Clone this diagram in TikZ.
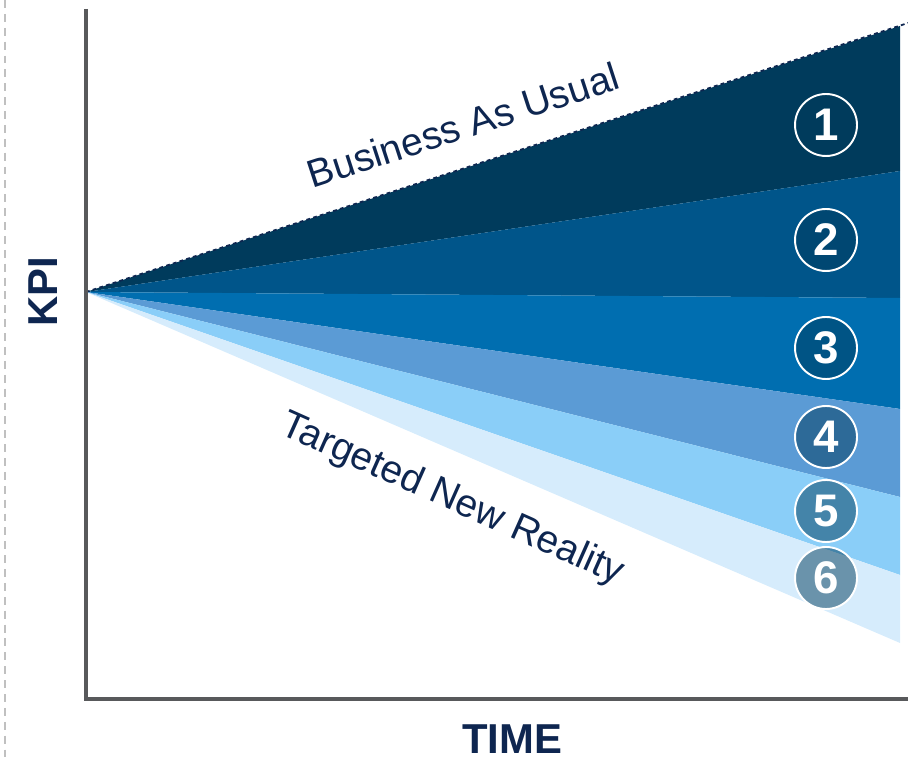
\documentclass[tikz,border=0pt]{standalone}
\usepackage{fontspec}
\setmainfont{Liberation Sans}
\definecolor{bandone}{RGB}{0, 59, 92}
\definecolor{bandtwo}{RGB}{0, 85, 138}
\definecolor{bandthree}{RGB}{0, 110, 176}
\definecolor{bandfour}{RGB}{91, 155, 213}
\definecolor{bandfive}{RGB}{138, 206, 248}
\definecolor{bandsix}{RGB}{214, 236, 252}
\definecolor{navytext}{RGB}{14, 38, 80}
\definecolor{axisgray}{RGB}{88, 89, 91}
\definecolor{dashgray}{RGB}{192, 192, 192}
\usetikzlibrary{positioning, calc}

\begin{document}
\begin{tikzpicture}[x=0.02cm, y=-0.02cm]
  \useasboundingbox (0,0) rectangle (908,759);

  % Key points
  \coordinate (origin) at (86,292);
  \coordinate (ytop) at (86,9);
  \coordinate (corner) at (86,699);
  \coordinate (xend) at (908,699);
  \coordinate (bauend) at (908,23);
  \coordinate (r0) at (900,26);
  \coordinate (r1) at (900,171);
  \coordinate (r2) at (900,298);
  \coordinate (r3) at (900,409);
  \coordinate (r4) at (900,497);
  \coordinate (r5) at (900,575);
  \coordinate (r6) at (900,643);

  % Left margin guide
  \coordinate (guidetop) at (5,0);
  \coordinate (guidebot) at (5,759);
  \draw[dashgray, line width=1.4pt, dash pattern={on 4.5pt off 3.4pt}] (guidetop) -- (guidebot);

  % The fan of scenarios
  \fill[bandone] (origin) -- (r0) -- (r1) -- cycle;
  \fill[bandtwo] (origin) -- (r1) -- (r2) -- cycle;
  \fill[bandthree] (origin) -- (r2) -- (r3) -- cycle;
  \fill[bandfour] (origin) -- (r3) -- (r4) -- cycle;
  \fill[bandfive] (origin) -- (r4) -- (r5) -- cycle;
  \fill[bandsix] (origin) -- (r5) -- (r6) -- cycle;
  \draw[navytext, line width=1pt, dash pattern={on 2.2pt off 1.8pt}] (origin) -- (bauend);

  % Axes
  \draw[axisgray, line width=0.08cm] (ytop) -- (corner) -- (xend);
  \node[rotate=90, text=navytext, font=\fontsize{23.8}{26}\selectfont\bfseries] (kpi) at (43,292) {KPI};
  \node[text=navytext, font=\fontsize{23.8}{26}\selectfont\bfseries] (time) at (512,739) {TIME};

  % Line labels
  \node[rotate=18, text=navytext, font=\fontsize{22.2}{24}\selectfont] (bau) at (463,125) {Business As Usual};
  \node[rotate=-24, text=navytext, font=\fontsize{22.2}{24}\selectfont] (tnr) at (452,500) {Targeted New Reality};

  % Numbered markers
  \node[circle, draw=white, line width=1.1pt, fill=bandone, fill opacity=0.5, text opacity=1, text=white, minimum size=1.24cm, inner sep=0pt, font=\fontsize{26}{26}\selectfont\bfseries] (m1) at (826,125) {1};
  \node[circle, draw=white, line width=1.1pt, fill=bandone, fill opacity=0.5, text opacity=1, text=white, minimum size=1.24cm, inner sep=0pt, font=\fontsize{26}{26}\selectfont\bfseries] (m2) at (826,240) {2};
  \node[circle, draw=white, line width=1.1pt, fill=bandone, fill opacity=0.5, text opacity=1, text=white, minimum size=1.24cm, inner sep=0pt, font=\fontsize{26}{26}\selectfont\bfseries] (m3) at (826,348) {3};
  \node[circle, draw=white, line width=1.1pt, fill=bandone, fill opacity=0.5, text opacity=1, text=white, minimum size=1.24cm, inner sep=0pt, font=\fontsize{26}{26}\selectfont\bfseries] (m4) at (826,437) {4};
  \node[circle, draw=white, line width=1.1pt, fill=bandone, fill opacity=0.5, text opacity=1, text=white, minimum size=1.24cm, inner sep=0pt, font=\fontsize{26}{26}\selectfont\bfseries] (m5) at (826,511) {5};
  \node[circle, draw=white, line width=1.1pt, fill=bandone, fill opacity=0.5, text opacity=1, text=white, minimum size=1.24cm, inner sep=0pt, font=\fontsize{26}{26}\selectfont\bfseries] (m6) at (826,578) {6};
\end{tikzpicture}
\end{document}
